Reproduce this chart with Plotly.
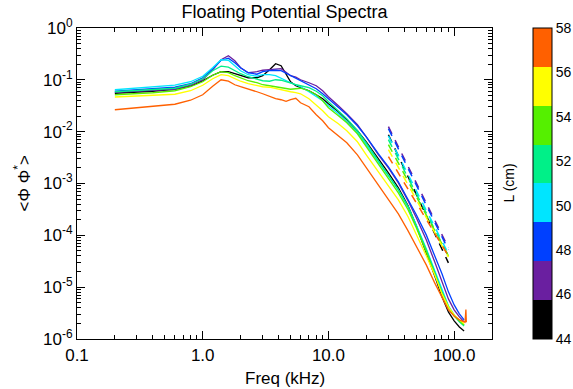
import plotly.graph_objects as go

# ---------------- data ----------------
freq_khz = [0.2, 0.4, 0.6, 0.8, 1.0, 1.2, 1.4, 1.6, 1.8, 2.0, 2.3, 2.7, 3.0, 3.4, 3.8, 4.2, 4.6,
            5.0, 5.5, 6.0, 7.0, 8.0, 9.0, 10, 12, 14, 17, 20, 25, 30, 36, 43, 50, 60, 70, 80,
            90, 100, 110, 120]

L_values = [44, 46, 48, 50, 52, 54, 56, 58]

spec_L44 = [0.0551, 0.0602, 0.0658, 0.0752, 0.0960, 0.1227, 0.1433, 0.1433, 0.1312, 0.1200,
            0.1098, 0.1098, 0.1200, 0.1567, 0.2045, 0.1872, 0.1312, 0.0919, 0.0769, 0.0704,
            0.0616, 0.0516, 0.0432, 0.0346, 0.0242, 0.0170, 0.0104, 0.00638, 0.00300, 0.00161,
            8.26e-4, 3.71e-4, 1.53e-4, 4.80e-5, 1.65e-5, 6.50e-6, 3.34e-6, 2.24e-6, 1.71e-6, 1.43e-6]
spec_L46 = [0.0571, 0.0616, 0.0658, 0.0787, 0.1004, 0.1567, 0.2443, 0.2919, 0.2337, 0.1713,
            0.1371, 0.1433, 0.1532, 0.1567, 0.1602, 0.1638, 0.1402, 0.1200, 0.1123, 0.1004,
            0.0879, 0.0769, 0.0616, 0.0472, 0.0316, 0.0222, 0.0136, 0.00797, 0.00358, 0.00201,
            1.03e-3, 4.63e-4, 2.18e-4, 8.19e-5, 3.08e-5, 1.27e-5, 5.94e-6, 3.65e-6, 2.67e-6, 2.14e-6]
spec_L48 = [0.0608, 0.0673, 0.0720, 0.0841, 0.1098, 0.1638, 0.2389, 0.2612, 0.2138, 0.1713,
            0.1371, 0.1283, 0.1433, 0.1499, 0.1532, 0.1499, 0.1341, 0.1200, 0.1098, 0.0960,
            0.0804, 0.0673, 0.0539, 0.0432, 0.0301, 0.0212, 0.0130, 0.00797, 0.00374, 0.00210,
            1.08e-3, 5.06e-4, 2.49e-4, 1.02e-4, 4.20e-5, 1.81e-5, 8.11e-6, 4.55e-6, 3.05e-6, 2.34e-6]
spec_L50 = [0.0644, 0.0720, 0.0787, 0.0919, 0.1174, 0.1713, 0.2443, 0.2389, 0.1872, 0.1499,
            0.1255, 0.1174, 0.1255, 0.1255, 0.1200, 0.1074, 0.0940, 0.0879, 0.0804, 0.0736,
            0.0589, 0.0472, 0.0395, 0.0316, 0.0222, 0.0155, 0.00953, 0.00559, 0.00262, 0.00141,
            7.55e-4, 3.55e-4, 1.59e-4, 5.49e-5, 2.06e-5, 8.48e-6, 4.36e-6, 2.92e-6, 2.24e-6, 1.87e-6]
spec_L52 = [0.0589, 0.0644, 0.0688, 0.0823, 0.1050, 0.1499, 0.1830, 0.1751, 0.1499, 0.1312,
            0.1148, 0.1050, 0.0960, 0.0940, 0.1004, 0.0982, 0.0919, 0.0841, 0.0804, 0.0769,
            0.0704, 0.0602, 0.0493, 0.0378, 0.0253, 0.0177, 0.0104, 0.00611, 0.00274, 0.00147,
            7.55e-4, 3.55e-4, 1.53e-4, 5.25e-5, 1.97e-5, 8.11e-6, 4.17e-6, 2.79e-6, 2.14e-6, 1.79e-6]
spec_L54 = [0.0516, 0.0564, 0.0616, 0.0736, 0.0919, 0.1227, 0.1433, 0.1371, 0.1200, 0.1074,
            0.0960, 0.0879, 0.0804, 0.0769, 0.0736, 0.0704, 0.0673, 0.0658, 0.0673, 0.0688,
            0.0616, 0.0516, 0.0395, 0.0289, 0.0203, 0.0149, 0.00911, 0.00511, 0.00240, 0.00123,
            6.61e-4, 3.11e-4, 1.40e-4, 4.80e-5, 1.89e-5, 7.76e-6, 4.17e-6, 2.79e-6, 2.24e-6, 1.87e-6]
spec_L56 = [0.0466, 0.0504, 0.0527, 0.0616, 0.0787, 0.1050, 0.1255, 0.1200, 0.1050, 0.0940,
            0.0841, 0.0769, 0.0736, 0.0720, 0.0673, 0.0644, 0.0616, 0.0589, 0.0564, 0.0539,
            0.0432, 0.0331, 0.0253, 0.0194, 0.0142, 0.0104, 0.00638, 0.00358, 0.00168, 9.03e-4,
            4.84e-4, 2.28e-4, 1.07e-4, 4.02e-5, 1.73e-5, 7.42e-6, 4.17e-6, 2.92e-6, 2.34e-6, 1.96e-6]
freq_L58 = freq_khz + [122, 124, 125]
spec_L58 = [0.0265, 0.0303, 0.0338, 0.0404, 0.0516, 0.0752, 0.1004, 0.0940, 0.0804, 0.0736,
            0.0673, 0.0589, 0.0539, 0.0472, 0.0432, 0.0413, 0.0386, 0.0413, 0.0441, 0.0361,
            0.0303, 0.0212, 0.0162, 0.0119, 0.00833, 0.00611, 0.00358, 0.00201, 9.03e-4, 4.84e-4,
            2.60e-4, 1.22e-4, 6.27e-5, 2.69e-5, 1.21e-5, 6.21e-6, 3.65e-6, 2.79e-6, 2.34e-6, 2.14e-6,
            2.10e-6, 3.70e-6, 2.10e-6]

# power-law fit segments (dashed), drawn between these two frequencies
fit_freq = [30, 90]
fit_L44 = [8.7e-3, 2.95e-5]
fit_L46 = [1.25e-2, 5.75e-5]
fit_L48 = [1.14e-2, 5.25e-5]
fit_L50 = [8.3e-3, 4.4e-5]
fit_L52 = [7.0e-3, 4.0e-5]
fit_L54 = [5.6e-3, 4.0e-5]
fit_L56 = [4.5e-3, 3.8e-5]
fit_L58 = [3.3e-3, 4.0e-5]

colors = ["#000000", "#6a1fa0", "#0040ff", "#00e5ff", "#00f088", "#55f000", "#ffff00", "#ff6000"]

spectra = [(freq_khz, spec_L44), (freq_khz, spec_L46), (freq_khz, spec_L48), (freq_khz, spec_L50),
           (freq_khz, spec_L52), (freq_khz, spec_L54), (freq_khz, spec_L56), (freq_L58, spec_L58)]
fits = [fit_L44, fit_L46, fit_L48, fit_L50, fit_L52, fit_L54, fit_L56, fit_L58]

x_ticks = [0.1, 1, 10, 100]
x_ticktext = ["0.1", "1.0", "10.0", "100.0"]
y_ticks = [1e-6, 1e-5, 1e-4, 1e-3, 1e-2, 1e-1, 1]
y_ticktext = ["10<sup>-6</sup>", "10<sup>-5</sup>", "10<sup>-4</sup>", "10<sup>-3</sup>",
              "10<sup>-2</sup>", "10<sup>-1</sup>", "10<sup>0</sup>"]
cbar_ticks = [44, 46, 48, 50, 52, 54, 56, 58]

# ---------------- figure ----------------
FONT = "Liberation Sans, Arial, Helvetica, sans-serif"
fig = go.Figure()

for (fx, fy), c, L in zip(spectra, colors, L_values):
    fig.add_trace(go.Scatter(x=fx, y=fy, mode="lines", line=dict(color=c, width=1.3),
                             name=f"L={L}", showlegend=False))

for fit, c in zip(fits, colors):
    fig.add_trace(go.Scatter(x=fit_freq, y=fit, mode="lines",
                             line=dict(color=c, width=1.5, dash="8px,7px"),
                             showlegend=False))

# discrete colour bar
n = len(colors)
cscale = []
for i, c in enumerate(colors):
    cscale.append([i / n, c])
    cscale.append([(i + 1) / n, c])
fig.add_trace(go.Scatter(
    x=[None], y=[None], mode="markers", showlegend=False,
    marker=dict(color=[44], cmin=44, cmax=58, colorscale=cscale, showscale=True,
                colorbar=dict(x=(533 - 77) / 415, xanchor="left", xpad=0,
                              y=0.5, yanchor="middle", ypad=0, len=1, lenmode="fraction",
                              thickness=19, thicknessmode="pixels",
                              outlinewidth=1, outlinecolor="black",
                              tickvals=cbar_ticks, ticks="",
                              tickfont=dict(family=FONT, size=14, color="black"))),
))

axis_common = dict(type="log", showline=True, linecolor="black", linewidth=1.2,
                   mirror="allticks", ticks="inside", ticklen=8, tickcolor="black",
                   tickwidth=1, showgrid=False, zeroline=False,
                   tickfont=dict(family=FONT, size=17, color="black"))

x_minor = [m * 10 ** e for e in (-1, 0, 1, 2) for m in range(2, 10) if m * 10 ** e <= 200]
y_minor = [m * 10.0 ** e for e in range(-6, 0) for m in range(2, 10)]

fig.update_xaxes(range=[-1, 2.30103], tickmode="array", tickvals=x_ticks, ticktext=x_ticktext,
                 minor=dict(tickmode="array", tickvals=x_minor, ticks="inside", ticklen=4,
                            tickcolor="black", showgrid=False),
                 **axis_common)
fig.update_yaxes(range=[-6, 0], tickmode="array", tickvals=y_ticks, ticktext=y_ticktext,
                 minor=dict(tickmode="array", tickvals=y_minor, ticks="inside", ticklen=4,
                            tickcolor="black", showgrid=False),
                 **axis_common)

fig.update_layout(
    width=573, height=389,
    margin=dict(l=77, r=81, t=28, b=50, autoexpand=False),
    paper_bgcolor="white", plot_bgcolor="white",
    font=dict(family=FONT, color="black"),
    title=dict(text="Floating Potential Spectra", x=0.5, xref="paper", xanchor="center",
               y=1 - 12 / 389, yref="container", yanchor="middle",
               font=dict(family=FONT, size=18, color="black")),
    annotations=[
        dict(text="Freq (kHz)", x=0.5, y=(339 - 378) / 311, xref="paper", yref="paper",
             xanchor="center", yanchor="middle", showarrow=False,
             font=dict(family=FONT, size=17, color="black")),
        dict(text="&lt;Φ Φ<sup>*</sup>&gt;", x=(22 - 77) / 415, y=0.5, xref="paper", yref="paper",
             xanchor="center", yanchor="middle", showarrow=False, textangle=-90,
             font=dict(family=FONT, size=17, color="black")),
        dict(text="L (cm)", x=(508 - 77) / 415, y=0.5, xref="paper", yref="paper",
             xanchor="center", yanchor="middle", showarrow=False, textangle=-90,
             font=dict(family=FONT, size=14, color="black")),
    ],
)

fig.write_html("out.html", config={"displayModeBar": False},
               post_script="document.body.style.margin='0px';document.body.style.padding='0px';"
                           "document.documentElement.style.overflow='hidden';")
